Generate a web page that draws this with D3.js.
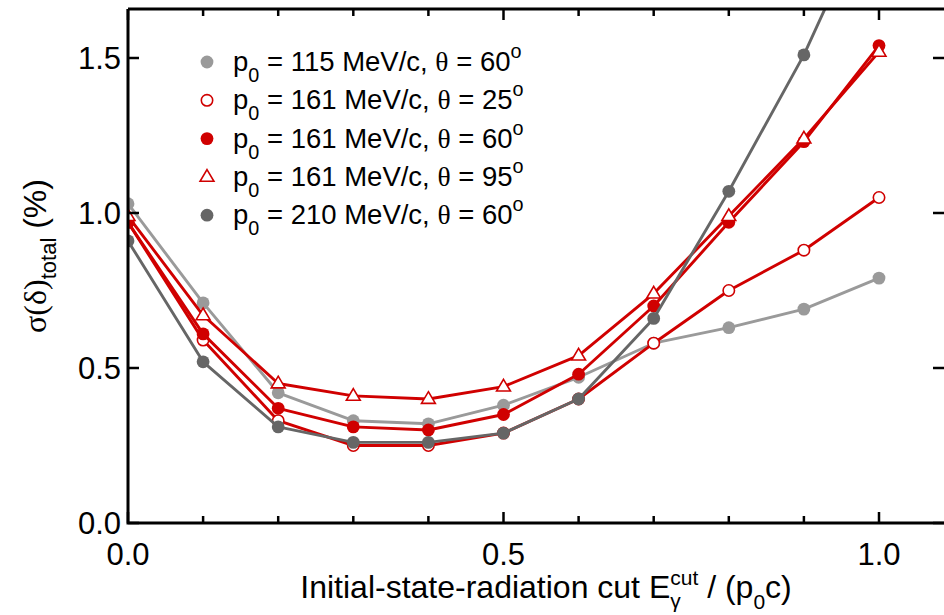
<!DOCTYPE html>
<html><head><meta charset="utf-8">
<script src="https://cdn.jsdelivr.net/npm/d3@7"></script>
<style>body{margin:0;background:#fff}svg{display:block}text{white-space:pre}</style>
</head><body>
<svg id="c" width="944" height="615"></svg>
<script>
const xCuts = [0.0,0.1,0.2,0.3,0.4,0.5,0.6,0.7,0.8,0.9,1.0];
const s115_60 = [1.03,0.71,0.42,0.33,0.32,0.38,0.47,0.58,0.63,0.69,0.79];
const s161_25 = [0.97,0.59,0.33,0.25,0.25,0.29,0.40,0.58,0.75,0.88,1.05];
const s161_60 = [0.97,0.61,0.37,0.31,0.30,0.35,0.48,0.70,0.97,1.23,1.54];
const s161_95 = [0.99,0.67,0.45,0.41,0.40,0.44,0.54,0.74,0.99,1.24,1.52];
const s210_60 = [0.91,0.52,0.31,0.26,0.26,0.29,0.40,0.66,1.07,1.51,2.04];
const seriesP0 = ["115","161","161","161","210"];
const seriesTheta = ["60","25","60","95","60"];
const xTickLabels = ["0.0","0.5","1.0"];
const yTickLabels = ["0.0","0.5","1.0","1.5"];

const series = [
  {vals:s115_60, color:"#9a9a9a", shape:"dot"},
  {vals:s161_25, color:"#d00000", shape:"ring"},
  {vals:s161_60, color:"#d00000", shape:"dot"},
  {vals:s161_95, color:"#d00000", shape:"tri"},
  {vals:s210_60, color:"#666666", shape:"dot"}
];

const svg = d3.select("#c");
const X0=128, X1=879, Y0=523, Y1=213;
const x = d3.scaleLinear().domain([0,1]).range([X0,X1]);
const y = d3.scaleLinear().domain([0,1]).range([Y0,Y1]);
const xRight = 946, yTop = 9;
const SANS = "'Liberation Sans', Arial, Helvetica, sans-serif";
const SERIF = "'Liberation Serif', 'Times New Roman', serif";

const plot = svg.append("g");
plot.append("clipPath").attr("id","clip").append("rect")
  .attr("x",X0).attr("y",yTop).attr("width",xRight-X0).attr("height",Y0-yTop);
const data = plot.append("g").attr("clip-path","url(#clip)");

const line = d3.line().x((d,i)=>x(xCuts[i])).y(d=>y(d));
function marker(g, shape, color, cx, cy){
  if(shape==="dot") g.append("circle").attr("cx",cx).attr("cy",cy).attr("r",6.4).attr("fill",color);
  else if(shape==="ring") g.append("circle").attr("cx",cx).attr("cy",cy).attr("r",5.7).attr("fill","#fff").attr("stroke",color).attr("stroke-width",1.6);
  else if(shape==="tri"){
    const s=7.3;
    g.append("path").attr("d",`M${cx},${cy-s}L${cx+s*0.95},${cy+s*0.6}L${cx-s*0.95},${cy+s*0.6}Z`)
      .attr("fill","#fff").attr("stroke",color).attr("stroke-width",1.6);
  }
}
series.forEach(s=>{
  const g = data.append("g");
  g.append("path").datum(s.vals).attr("d",line).attr("fill","none")
    .attr("stroke",s.color).attr("stroke-width",2.9).attr("stroke-linejoin","round");
  s.vals.forEach((v,i)=>marker(g,s.shape,s.color,x(xCuts[i]),y(v)));
});

// frame
const ax = svg.append("g").attr("stroke","#000").attr("stroke-width",3).attr("fill","none");
ax.append("path").attr("d",`M${X0},${yTop}V${Y0}H${xRight}`);
ax.append("path").attr("d",`M${X0},${yTop}H${xRight}`);
const xMinor = d3.range(0,11).map(i=>i/10);
xMinor.forEach(v=>{
  const major = Math.abs(v*2-Math.round(v*2))<1e-6;
  const L = major?11:7;
  ax.append("line").attr("x1",x(v)).attr("x2",x(v)).attr("y1",Y0).attr("y2",Y0-L).attr("stroke-width",2.5);
  ax.append("line").attr("x1",x(v)).attr("x2",x(v)).attr("y1",yTop).attr("y2",yTop+L).attr("stroke-width",2.5);
});
[0,0.5,1.0,1.5].forEach(v=>{
  ax.append("line").attr("x1",X0).attr("x2",X0+11).attr("y1",y(v)).attr("y2",y(v)).attr("stroke-width",2.5);
  ax.append("line").attr("x1",xRight-13).attr("x2",xRight).attr("y1",y(v)).attr("y2",y(v)).attr("stroke-width",2.5);
});

// tick labels
const tf = 31;
svg.append("g").selectAll("text").data(yTickLabels).join("text")
  .attr("x",121).attr("y",d=>y(+d)+11).attr("text-anchor","end")
  .attr("font-family",SANS).attr("font-size",tf).text(d=>d);
svg.append("g").selectAll("text").data(xTickLabels).join("text")
  .attr("x",d=>x(+d)).attr("y",565).attr("text-anchor","middle")
  .attr("font-family",SANS).attr("font-size",tf).text(d=>d);

// rich text helper: runs laid out sequentially
function rich(parent, runs, x0, y0){
  const g = parent.append("g");
  let cx = x0;
  runs.forEach(r=>{
    const t = g.append("text").attr("x",cx + (r.dx||0)).attr("y",y0 + (r.dy||0))
      .attr("xml:space","preserve").style("white-space","pre")
      .attr("font-family",r.fam||SANS).attr("font-size",r.size).text(r.t);
    const w = t.node().getComputedTextLength();
    if(!r.nowidth) cx += w + (r.dx||0);
  });
  return {g, width: cx - x0};
}

// legend
const lf = 27.5;
series.forEach((s,i)=>{
  const ly = 62 + i*38.3;
  marker(svg, s.shape, s.color, 207, ly);
  rich(svg, [
    {t:"p", size:lf},
    {t:"0", size:lf*0.72, dy:11},
    {t:" = "+seriesP0[i]+" MeV/c, ", size:lf},
    {t:"θ", size:lf, fam:SERIF},
    {t:" = "+seriesTheta[i], size:lf},
    {t:"o", size:lf*0.72, dy:-13}
  ], 233, ly+9);
});

// x title
{
  const runs = [
    {t:"Initial-state-radiation cut E", size:32},
    {t:"γ", size:21, dy:10, nowidth:true, fam:SANS},
    {t:"cut", size:21, dy:-13},
    {t:" / (p", size:32},
    {t:"0", size:21, dy:11},
    {t:"c)", size:32}
  ];
  const tmp = rich(svg, runs, 0, 0);
  const w = tmp.width; tmp.g.remove();
  rich(svg, runs, 546 - w/2, 598);
}
// y title
{
  const gy = svg.append("g");
  const runs = [
    {t:"σ(δ)", size:32, fam:SERIF},
    {t:"total", size:22, dy:10},
    {t:" (%)", size:32}
  ];
  const tmp = rich(gy, runs, 0, 0); const w = tmp.width; tmp.g.remove();
  rich(gy, runs, -w/2, 0);
  gy.attr("transform","translate(46,256) rotate(-90)");
}
</script>
</body></html>
